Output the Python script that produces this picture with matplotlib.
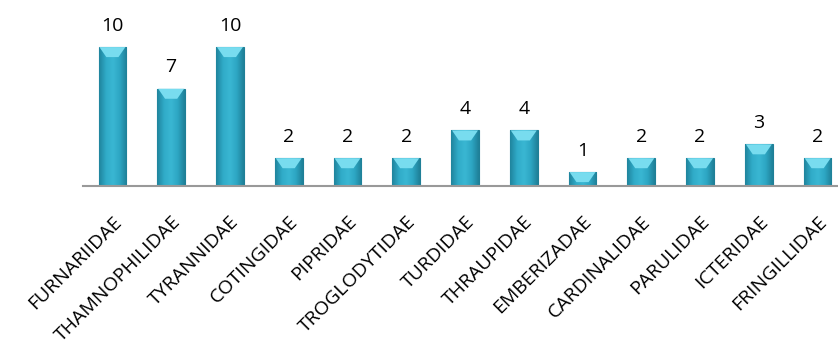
import matplotlib
matplotlib.use("Agg")
import matplotlib.pyplot as plt
import numpy as np
from matplotlib.patches import Polygon
from matplotlib.colors import LinearSegmentedColormap

categories = ["FURNARIIDAE", "THAMNOPHILIDAE", "TYRANNIDAE", "COTINGIDAE", "PIPRIDAE",
              "TROGLODYTIDAE", "TURDIDAE", "THRAUPIDAE", "EMBERIZADAE", "CARDINALIDAE",
              "PARULIDAE", "ICTERIDAE", "FRINGILLIDAE"]
values = [10, 7, 10, 2, 2, 2, 4, 4, 1, 2, 2, 3, 2]

plt.rcParams['font.family'] = ['Open Sans', 'DejaVu Sans']

fig = plt.figure(figsize=(8.38, 3.52), dpi=100)
W, H = 838, 352
left, right = 83, 847
bottom, top = 186, 20
ax = fig.add_axes([left / W, 1 - bottom / H, (right - left) / W, (bottom - top) / H])

x = np.arange(len(categories))
bars = ax.bar(x, values, width=0.47, color="#2fa6c3", edgecolor="#1f7f97", linewidth=0.8, zorder=2)

cmap = LinearSegmentedColormap.from_list("cyl", ["#1f849d", "#30abc8", "#3ab7d3", "#2da6c3", "#1f8098"])
grad = np.linspace(0, 1, 64).reshape(1, -1)
ymax = 11.95
ax.set_xlim(-0.5, len(categories) - 0.5)
ax.set_ylim(0, ymax)

px_per_unit = (bottom - top) / ymax
bevel = 10 / px_per_unit
for b in bars:
    x0, w, h = b.get_x(), b.get_width(), b.get_height()
    im = ax.imshow(grad, extent=[x0, x0 + w, 0, h], aspect='auto', cmap=cmap, zorder=2.1,
                   interpolation='bicubic')
    im.set_clip_path(b)
    d = min(bevel, h * 0.75)
    tri = Polygon([[x0 + w * 0.03, h], [x0 + w * 0.97, h], [x0 + w * 0.72, h - d],
                   [x0 + w * 0.28, h - d]],
                  closed=True, facecolor="#78dcef", edgecolor="none", zorder=2.2)
    ax.add_patch(tri)
    ax.text(x0 + w / 2, h + 0.9, str(int(h)), ha='center', va='bottom', fontsize=14,
            color='black', zorder=3)

for s in ["top", "right", "left"]:
    ax.spines[s].set_visible(False)
ax.spines["bottom"].set_color("#999999")
ax.spines["bottom"].set_linewidth(1.5)
ax.set_yticks([])
ax.set_xticks(x)
ax.set_xticklabels(categories, rotation=45, ha='right', rotation_mode='anchor', fontsize=14)
ax.tick_params(axis='x', length=0, pad=19)

fig.savefig("out.png", dpi=100)
